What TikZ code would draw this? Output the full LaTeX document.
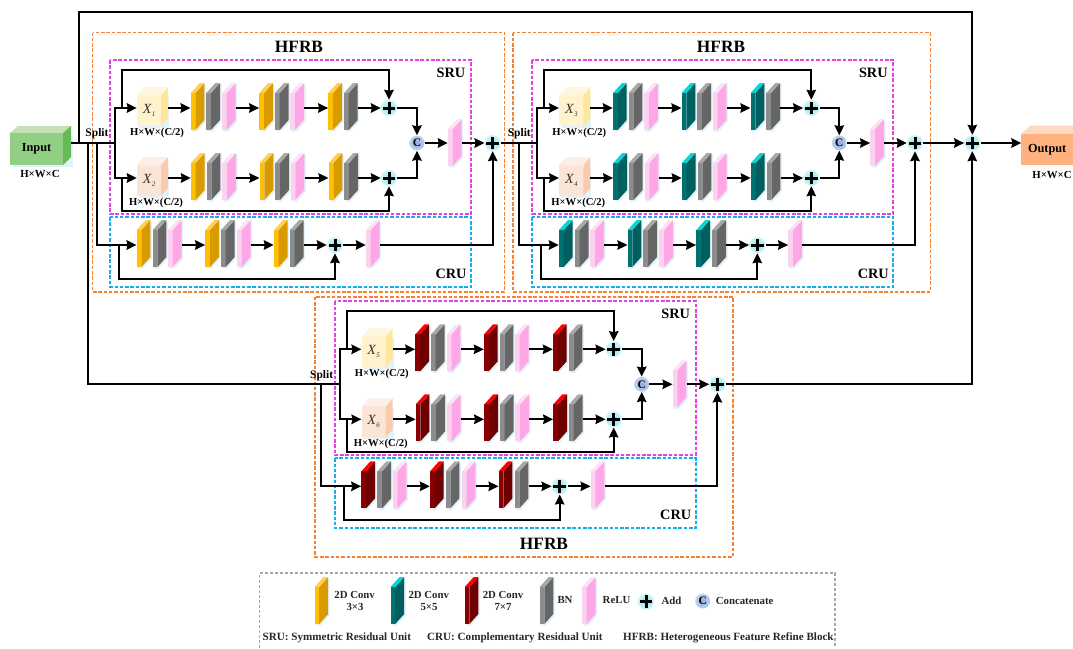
\documentclass[tikz,border=0pt]{standalone}
\usepackage{fontspec}
\setmainfont{Liberation Serif}
\usetikzlibrary{arrows.meta,shadings}
\definecolor{yelF}{HTML}{FFC000}\definecolor{yelS}{HTML}{D99A00}\definecolor{yelT}{HTML}{FFD050}
\definecolor{teaF}{HTML}{007070}\definecolor{teaS}{HTML}{006060}\definecolor{teaT}{HTML}{00D8D8}
\definecolor{redF}{HTML}{8A0000}\definecolor{redS}{HTML}{6E0000}\definecolor{redT}{HTML}{FF0000}
\definecolor{gryF}{HTML}{8C8C8C}\definecolor{gryS}{HTML}{666666}\definecolor{gryT}{HTML}{A8A8A8}
\definecolor{pnkF}{HTML}{FBD3F0}\definecolor{pnkS}{HTML}{FFA6E6}\definecolor{pnkT}{HTML}{FBE3F6}
\definecolor{xaF}{HTML}{FFF2CC}\definecolor{xaS}{HTML}{FFE699}\definecolor{xaT}{HTML}{FFF6DD}
\definecolor{xbF}{HTML}{FBE5D6}\definecolor{xbS}{HTML}{F8CBAD}\definecolor{xbT}{HTML}{FDEFE6}
\definecolor{shad}{HTML}{E2F2FA}
\definecolor{orangeb}{HTML}{F58233}\definecolor{magb}{HTML}{E83FE0}\definecolor{cyanb}{HTML}{12AEEF}
\definecolor{inT}{HTML}{C5E0B4}\definecolor{inS}{HTML}{66BB55}\definecolor{inF}{HTML}{93CE86}
\definecolor{outT}{HTML}{FFD9C0}\definecolor{outF}{HTML}{FFB27F}
\definecolor{addI}{HTML}{8CE6EE}\definecolor{addO}{HTML}{CFF4F7}
\definecolor{conI}{HTML}{8FAADC}\definecolor{conO}{HTML}{C3D2EE}
\tikzset{
 conn/.style={line width=1.9pt,black},
 arr/.style={conn,-{Stealth[length=10pt,width=9.5pt,inset=1pt]}},
 blockbox/.style={dash pattern=on 3.5pt off 1.8pt,line width=1.8pt,orangeb},
 srubox/.style={dash pattern=on 3.5pt off 1.8pt,line width=1.8pt,magb},
 crubox/.style={dash pattern=on 3.5pt off 1.8pt,line width=1.8pt,cyanb},
 legbox/.style={dash pattern=on 3pt off 2pt,line width=1.5pt,black!35},
 laynode/.style={inner sep=0pt,minimum width=13.7pt,minimum height=30pt},
 xnode/.style={inner sep=0pt,minimum width=30.7pt,minimum height=26pt},
 addnode/.style={circle,inner sep=0pt,minimum size=16pt,inner color=addI,outer color=addO,
   path picture={\draw[line width=3pt,black] ([xshift=-6.3pt]path picture bounding box.center) -- ([xshift=6.3pt]path picture bounding box.center);
                 \draw[line width=3pt,black] ([yshift=-6.3pt]path picture bounding box.center) -- ([yshift=6.3pt]path picture bounding box.center);}},
 cnode/.style={circle,inner sep=0pt,minimum size=15pt,inner color=conI,outer color=conO,
   font=\fontsize{11.5}{12}\selectfont\bfseries},
 tblock/.style={font=\fontsize{17.3}{18}\selectfont\bfseries,inner sep=0pt},
 tunit/.style={font=\fontsize{14.3}{15}\selectfont\bfseries,inner sep=0pt},
 tsplit/.style={font=\fontsize{11.5}{13}\selectfont\bfseries,inner sep=0pt},
 tdim/.style={font=\fontsize{10.6}{12}\selectfont\bfseries,inner sep=0pt},
 tio/.style={font=\fontsize{12.3}{14}\selectfont\bfseries,inner sep=0pt},
 tleg/.style={font=\fontsize{10.8}{12}\selectfont\bfseries,inner sep=0pt,text=black!85},
 tlegb/.style={font=\fontsize{11.1}{12}\selectfont\bfseries,inner sep=0pt,text=black!85,anchor=west},
}
% [dy]{name}{x}{y}{kind}
\newcommand{\lay}[5][0]{%
 \node[laynode] (#2) at (#3+6.85,#4) {};
 \begin{scope}[shift={(#3,#4+#1)}]
  \fill[shad] (1.5,-13.5) -- (10.5,-23.5) -- (15.2,-23.5) -- (15.2,13.5) -- (6.2,23.5) -- (1.5,23.5) -- cycle;
  \fill[#5F] (0,-15) rectangle (4.7,22);
  \fill[#5S] (4.7,-15) -- (13.7,-25) -- (13.7,12) -- (4.7,22) -- cycle;
  \fill[#5T] (0,-15) -- (9,-25) -- (13.7,-25) -- (4.7,-15) -- cycle;
 \end{scope}}
% {name}{ymid}{subscript}{kind}
\newcommand{\xbox}[4]{%
 \node[xnode] (#1) at (152.3,#2) {};
 \begin{scope}[shift={(137,#2)}]
  \fill[shad] (1.5,-11) rectangle (32,20);
  \fill[#4F] (0,-13) rectangle (24,18);
  \fill[#4S] (24,-13) -- (31,-21) -- (31,10) -- (24,18) -- cycle;
  \fill[#4T] (0,-13) -- (7,-21) -- (31,-21) -- (24,-13) -- cycle;
  \node[inner sep=0pt,text=black!80,font=\fontsize{14}{15}\selectfont] (#1t) at (12,2.5) {\textit{X}\raisebox{-3pt}{\fontsize{7}{8}\selectfont\itshape #3}};
 \end{scope}}
% row of layers: {prefix}{y}{kind}{xshift}
\newcommand{\srow}[4]{%
 \lay{#1a}{190.7+#4}{#2}{#3}
 \lay{#1b}{206.3+#4}{#2}{gry}
 \lay{#1c}{222+#4}{#2}{pnk}
 \lay{#1d}{259.3+#4}{#2}{#3}
 \lay{#1e}{275+#4}{#2}{gry}
 \lay{#1f}{290.3+#4}{#2}{pnk}
 \lay{#1g}{328.3+#4}{#2}{#3}
 \lay{#1h}{344+#4}{#2}{gry}
 \draw[arr] (#1c.east) -- (#1d.west);
 \draw[arr] (#1f.east) -- (#1g.west);
}
% {prefix}{dx}{dy}{kind}{sub a}{sub b}
\newcommand{\hfrb}[6]{%
\begin{scope}[shift={(#2,#3)}]
 \draw[srubox] (110,60) rectangle (471,213.7);
 \draw[crubox] (110,217) rectangle (471,286.7);
 \node[tunit] (#1sru) at (451,73) {SRU};
 \node[tunit] (#1cru) at (451,274) {CRU};
 \coordinate (#1s) at (115,143);
 \coordinate (#1ds) at (96.7,143);
 \coordinate (#1ta) at (122,70);
 \coordinate (#1tb) at (122,211);
 \coordinate (#1ba) at (122,108);
 \coordinate (#1bb) at (122,178);
 \coordinate (#1bc) at (119,245);
 \coordinate (#1cb) at (119,279);
 \xbox{#1xa}{108}{#5}{xa}
 \xbox{#1xb}{178}{#6}{xb}
 \node[tdim] (#1da) at (157,133) {H×W×(C/2)};
 \node[tdim] (#1db) at (156,203) {H×W×(C/2)};
 \srow{#1p}{108}{#4}{0}
 \srow{#1q}{178}{#4}{0.3}
 \node[addnode] (#1aa) at (389,108) {};
 \node[addnode] (#1ab) at (389,178) {};
 \node[cnode] (#1cc) at (417,143) {C};
 \lay[1]{#1po}{448}{143}{pnk}
 \node[addnode] (#1am) at (492.7,143) {};
 \draw[arr] (#1xa.east) -- (#1pa.west);
 \draw[arr] (#1xb.east) -- (#1qa.west);
 \draw[arr] (#1ph.east) -- (#1aa.west);
 \draw[arr] (#1qh.east) -- (#1ab.west);
 \draw[conn] (#1s) |- (#1ba);
 \draw[conn] (#1s) |- (#1bb);
 \draw[arr] (#1ba) -- (#1xa.west);
 \draw[arr] (#1bb) -- (#1xb.west);
 \draw[arr] (#1ba) -- (#1ta) -| (#1aa.north);
 \draw[arr] (#1bb) -- (#1tb) -| (#1ab.south);
 \draw[arr] (#1aa.east) -| (#1cc.north);
 \draw[arr] (#1ab.east) -| (#1cc.south);
 \draw[arr] (#1cc.east) -- (#1po.west);
 \draw[arr] (#1po.east) -- (#1am.west);
 % CRU
 \lay{#1ra}{136.7}{245}{#4}
 \lay{#1rb}{152.7}{245}{gry}
 \lay{#1rc}{168}{245}{pnk}
 \lay{#1rd}{205.3}{245}{#4}
 \lay{#1re}{221}{245}{gry}
 \lay{#1rf}{237}{245}{pnk}
 \lay{#1rg}{274}{245}{#4}
 \lay{#1rh}{290}{245}{gry}
 \node[addnode] (#1ac) at (335,245) {};
 \lay{#1ro}{366}{245}{pnk}
 \draw[arr] (#1ds) |- (#1ra.west);
 \draw[arr] (#1rc.east) -- (#1rd.west);
 \draw[arr] (#1rf.east) -- (#1rg.west);
 \draw[arr] (#1rh.east) -- (#1ac.west);
 \draw[arr] (#1ac.east) -- (#1ro.west);
 \draw[arr] (#1bc) -- (#1cb) -| (#1ac.south);
 \draw[arr] (#1ro.east) -| (#1am.south);
 \node[tsplit] (#1sp) at (97,134) {Split};
\end{scope}}
\begin{document}
\begin{tikzpicture}[x=1pt,y=-1pt]
\useasboundingbox (0,0) rectangle (1073,648);
% block frames
\draw[blockbox] (92.5,32.5) rectangle (504.5,291.7);
\draw[blockbox] (512.8,32.5) rectangle (930.5,291.7);
\draw[blockbox] (315,296.7) rectangle (733,556.7);
\node[tblock] (h1) at (299,47) {HFRB};
\node[tblock] (h2) at (721,47) {HFRB};
\node[tblock] (h3) at (544,544) {HFRB};
% input
\fill[shad] (13,136) rectangle (73,167);
\fill[inT] (10,133) -- (18,126) -- (71,126) -- (63,133) -- cycle;
\fill[inS] (63,133) -- (71,126) -- (71,157) -- (63,165) -- cycle;
\node[fill=inF,minimum width=53pt,minimum height=32pt,inner sep=0pt,tio] (in) at (36.5,149) {Input};
\node[tdim,font=\fontsize{10.8}{12}\selectfont\bfseries] (indim) at (40,174) {H×W×C};
\coordinate (inr) at (71,143);
% output
\fill[outT] (1021.3,134) -- (1030,125.7) -- (1073,125.7) -- (1073,134) -- cycle;
\node[fill=outF,minimum width=51.7pt,minimum height=31pt,inner sep=0pt,tio] (out) at (1047.15,149.5) {Output};
\node[tdim,font=\fontsize{10.8}{12}\selectfont\bfseries] (outdim) at (1052,175) {H×W×C};
% blocks
\hfrb{A}{0}{0}{yel}{1}{2}
\hfrb{B}{422.3}{0}{tea}{3}{4}
\hfrb{D}{224.7}{241.3}{red}{5}{6}
% top level
\coordinate (upj) at (79,143);
\coordinate (upt) at (79,12);
\coordinate (dnj) at (88,143);
\coordinate (dnb) at (88,384.3);
\coordinate (outin) at (1021.3,143);
\node[addnode] (T) at (972.3,143) {};
\draw[conn] (inr) -- (As);
\draw[conn] (Aam.east) -- (Bs);
\draw[arr] (Bam.east) -- (T.west);
\draw[arr] (T.east) -- (outin);
\draw[arr] (upj) -- (upt) -| (T.north);
\draw[conn] (dnj) -- (dnb) -- (Ds);
\draw[arr] (Dam.east) -| (T.south);
% legend
\draw[legbox] (259.5,647.5) -- (259.5,573) -- (835,573) -- (835,647.5);
\lay{l1}{314.5}{602}{yel}
\lay{l2}{390.5}{602}{tea}
\lay{l3}{464.7}{602}{red}
\lay{l4}{539.7}{602}{gry}
\lay{l5}{582}{602}{pnk}
\node[tleg] (t1) at (354.6,595) {2D Conv};
\node[tleg] (t1b) at (355,607) {3×3};
\node[tleg] (t2) at (428.8,595) {2D Conv};
\node[tleg] (t2b) at (429,607) {5×5};
\node[tleg] (t3) at (503,595) {2D Conv};
\node[tleg] (t3b) at (503,607) {7×7};
\node[tleg] (t4) at (565,600) {BN};
\node[tleg] (t5) at (616.5,600) {ReLU};
\node[addnode] (la) at (646,601.5) {};
\node[tleg] (t6) at (671.5,600.5) {Add};
\node[cnode] (lc) at (702.7,601) {C};
\node[tleg] (t7) at (744.6,600.5) {Concatenate};
\node[tlegb] (s1) at (262.5,637.5) {SRU: Symmetric Residual Unit};
\node[tlegb] (s2) at (427,637.5) {CRU: Complementary Residual Unit};
\node[tlegb] (s3) at (623,637.5) {HFRB: Heterogeneous Feature Refine Block};
\end{tikzpicture}
\end{document}
